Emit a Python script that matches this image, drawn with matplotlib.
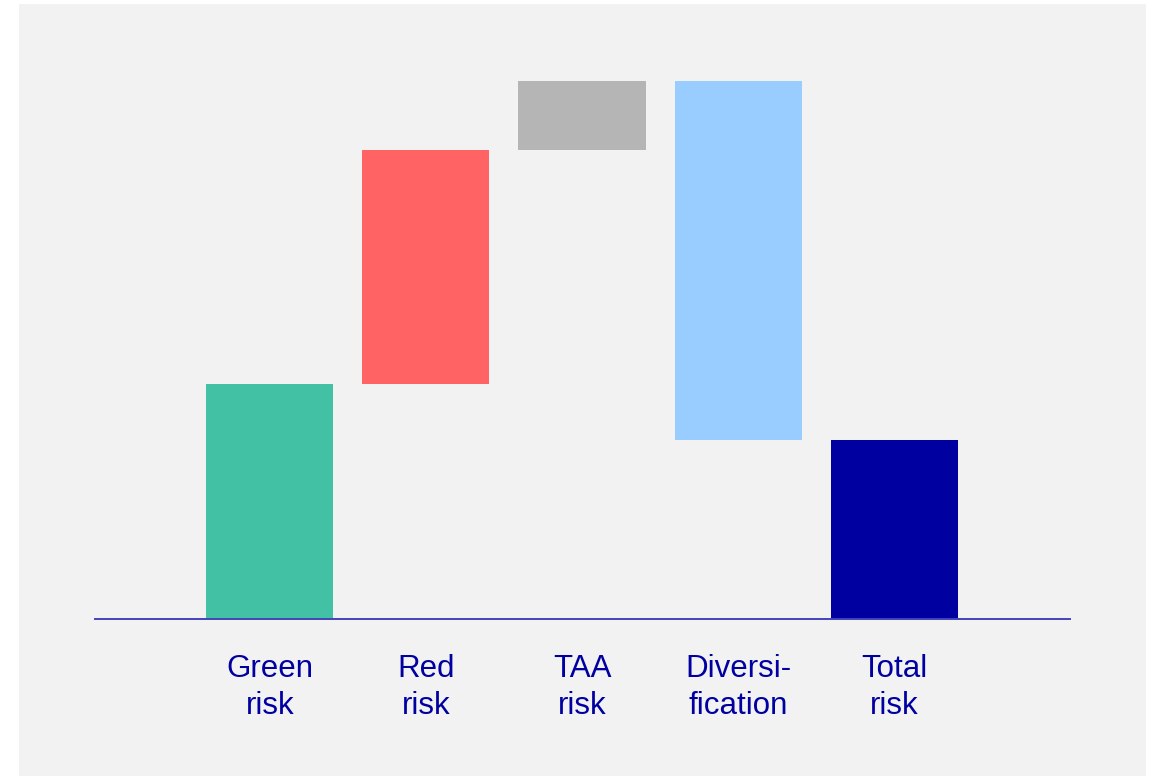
import numpy as np
import matplotlib.pyplot as plt
from matplotlib.patches import Rectangle

plt.rcParams['font.family'] = ['Liberation Sans', 'DejaVu Sans']

# risk decomposition (waterfall), last bar is the total
labels = ["Green\nrisk", "Red\nrisk", "TAA\nrisk", "Diversi-\nfication", "Total\nrisk"]
steps = [3.4, 3.4, 1.0, -5.2]
colors = ["#43c1a4", "#ff6363", "#b5b5b5", "#99ccff", "#0000a0"]

total = sum(steps)
heights = steps + [total]
bottoms = list(np.concatenate([[0], np.cumsum(steps)[:-1]])) + [0]
# negative steps hang down from the running sum
heights_abs = [abs(h) for h in heights]
bottoms = [b + h if h < 0 else b for b, h in zip(bottoms, heights)]

fig = plt.figure(figsize=(11.53, 7.76), dpi=100)
fig.patch.set_facecolor("white")
fig.patches.append(Rectangle((19 / 1153, 0), 1127 / 1153, 772 / 776,
                             transform=fig.transFigure, facecolor="#f2f2f2",
                             edgecolor="none", zorder=-1))

ax = fig.add_axes([95 / 1153, 1 - 619 / 776, 975 / 1153, 569 / 776])
ax.set_facecolor("none")

x = np.arange(len(labels))
ax.bar(x, heights_abs, bottom=bottoms, width=0.814, color=colors, zorder=2)

ax.set_xlim(-1.119, 5.125)
ax.set_ylim(0, 569 / 69)
for s in ["top", "right", "left"]:
    ax.spines[s].set_visible(False)
ax.spines["bottom"].set_color("#4444bb")
ax.spines["bottom"].set_linewidth(1.4)
ax.spines["bottom"].set_zorder(3)
ax.set_yticks([])
ax.set_xticks(x)
ax.set_xticklabels(labels, fontsize=22.5, color="#0000a0", linespacing=1.33)
ax.tick_params(axis="x", length=0, pad=25)

fig.savefig("out.png", dpi=100)
